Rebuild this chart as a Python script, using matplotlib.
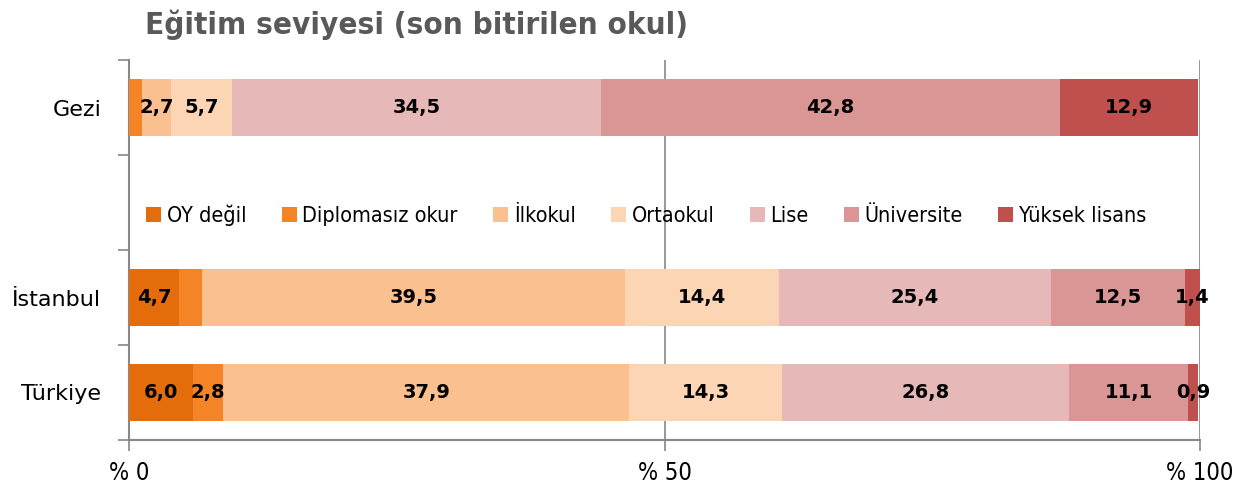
import matplotlib
matplotlib.use("Agg")
import matplotlib.pyplot as plt
import numpy as np

title = "Eğitim seviyesi (son bitirilen okul)"
categories = ["Gezi", "İstanbul", "Türkiye"]
series_names = ["OY değil", "Diplomasız okur", "İlkokul", "Ortaokul", "Lise", "Üniversite", "Yüksek lisans"]
gezi = [0.0, 1.2, 2.7, 5.7, 34.5, 42.8, 12.9]
istanbul = [4.7, 2.1, 39.5, 14.4, 25.4, 12.5, 1.4]
turkiye = [6.0, 2.8, 37.9, 14.3, 26.8, 11.1, 0.9]
# which labels are shown (Excel hid the tiny ones)
gezi_show = [False, False, True, True, True, True, True]
istanbul_show = [True, False, True, True, True, True, True]
turkiye_show = [True, True, True, True, True, True, True]
xticks = [0, 50, 100]
xticklabels = ["% 0", "% 50", "% 100"]

colors = ["#E46C0A", "#F58426", "#FAC090", "#FCD5B5", "#E6B9B8", "#D99694", "#C0504D"]

data = [gezi, istanbul, turkiye]
shows = [gezi_show, istanbul_show, turkiye_show]
ypos = [0, 2, 3]

fig = plt.figure(figsize=(12.52, 4.88), dpi=100)
ax = fig.add_axes([129/1252, 1-440/488, (1200-129)/1252, 380/488])

bar_h = 0.59
for j, name in enumerate(series_names):
    vals = [d[j] for d in data]
    lefts = [sum(d[:j]) for d in data]
    ax.barh(ypos, vals, left=lefts, height=bar_h, color=colors[j], label=name, zorder=3)
    for y, v, l, s in zip(ypos, vals, lefts, shows):
        if s[j]:
            ax.text(l + v/2, y, f"{v:.1f}".replace(".", ","), ha="center", va="center",
                    fontsize=14, fontweight="bold", color="black", zorder=4)

ax.set_xlim(0, 100)
ax.set_ylim(3.5, -0.5)
ax.set_xticks(xticks)
ax.set_xticklabels(xticklabels, fontsize=17, fontstretch="condensed")
ax.tick_params(axis="x", direction="out", length=8, pad=7, color="#888888", width=1.2)
ax.set_yticks(ypos)
ax.set_yticklabels(categories, fontsize=16)
ax.tick_params(axis="y", which="major", length=0, pad=20)
ax.set_yticks([-0.5, 0.5, 1.5, 2.5, 3.5], minor=True)
ax.tick_params(axis="y", which="minor", direction="out", length=8, color="#888888", width=1.2)

for sp in ["top", "right"]:
    ax.spines[sp].set_visible(False)
for sp in ["left", "bottom"]:
    ax.spines[sp].set_color("#888888")
    ax.spines[sp].set_linewidth(1.5)
for x in [50, 100]:
    ax.axvline(x, color="#888888", lw=1.2, zorder=1)

leg = ax.legend(loc="center", bbox_to_anchor=(0.483, 1 - (215-60)/380), ncol=7, frameon=False,
                prop={"size": 15.5, "stretch": "condensed"}, handlelength=0.7, handleheight=0.7,
                handletextpad=0.25, columnspacing=1.65)

fig.text(145/1252, 1-25/488, title, fontsize=22.5, fontweight="heavy", color="#595959",
         ha="left", va="center", fontstretch="condensed")

fig.savefig("out.png", dpi=100)
